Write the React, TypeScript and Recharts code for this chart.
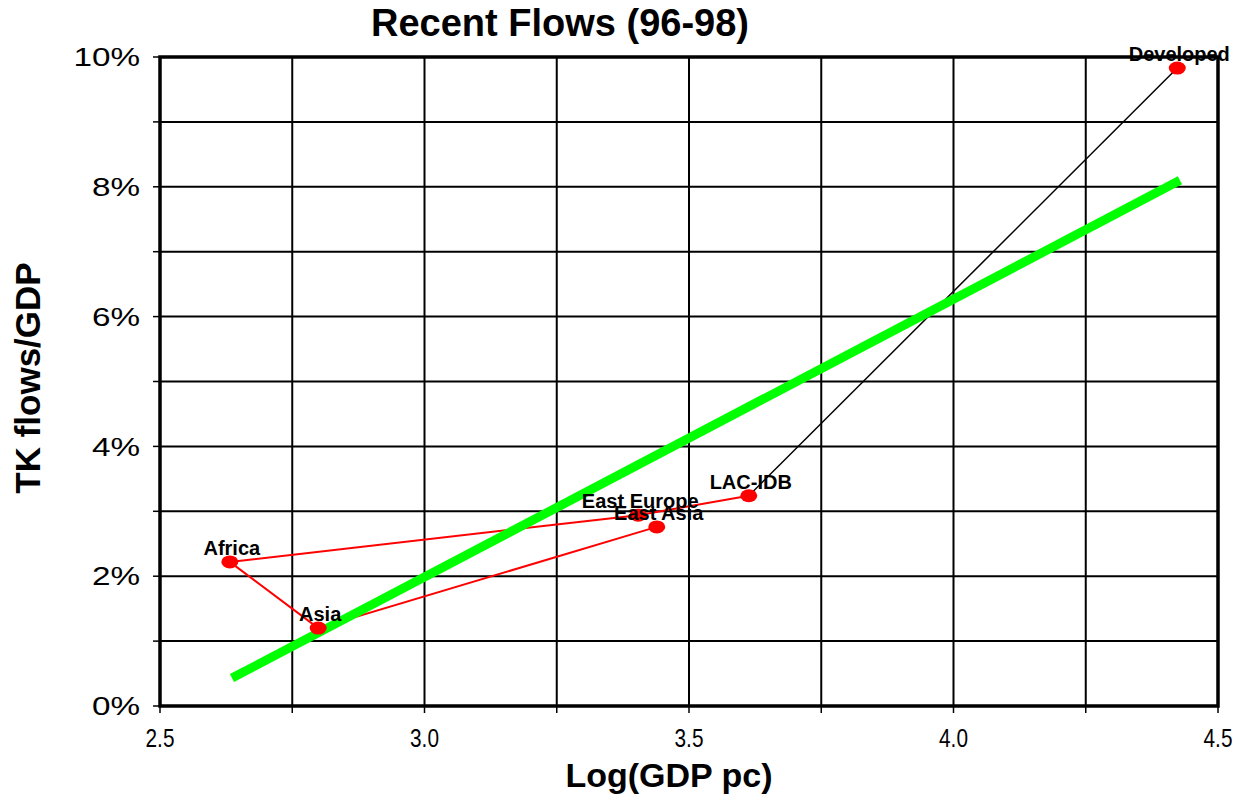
import React from "react";
import {
  ComposedChart,
  Line,
  Scatter,
  XAxis,
  YAxis,
  CartesianGrid,
  ReferenceArea,
} from "recharts";

// ---- data ----
const regionNames = ["Africa", "Asia", "East Europe", "East Asia", "LAC-IDB", "Developed"];
const logGdpPc = [2.632, 2.799, 3.404, 3.439, 3.613, 4.423];
const tkFlowsPct = [2.22, 1.2, 2.94, 2.76, 3.24, 9.83];
const redPathOrder = ["LAC-IDB", "East Europe", "Africa", "Asia", "East Asia"];
const blackPathOrder = ["LAC-IDB", "Developed"];
const trendX = [2.636, 4.428];
const trendY = [0.43, 8.1];
const xTicks = [2.5, 2.75, 3.0, 3.25, 3.5, 3.75, 4.0, 4.25, 4.5];
const xTickLabels = ["2.5", "", "3.0", "", "3.5", "", "4.0", "", "4.5"];
const yTicks = [0, 1, 2, 3, 4, 5, 6, 7, 8, 9, 10];
const yTickLabels = ["0%", "", "2%", "", "4%", "", "6%", "", "8%", "", "10%"];

const points = regionNames.map((name, i) => ({ name, x: logGdpPc[i], y: tkFlowsPct[i] }));
const byName = (n: string) => points.find((p) => p.name === n)!;
const redPath = redPathOrder.map(byName);
const blackPath = blackPathOrder.map(byName);
const trend = trendX.map((x, i) => ({ x, y: trendY[i] }));

const FONT = "'Liberation Sans', Arial, sans-serif";

const YTick = (props: any) => {
  const { x, y, payload } = props;
  const idx = yTicks.indexOf(payload.value);
  const label = yTickLabels[idx] ?? "";
  return (
    <g transform={`translate(${x},${y}) scale(1.28,1)`}>
      <text x={0} y={0} textAnchor="end" dominantBaseline="central" fontSize={26} fontFamily={FONT} fill="#000">
        {label}
      </text>
    </g>
  );
};

const XTick = (props: any) => {
  const { x, y, payload } = props;
  const idx = xTicks.findIndex((t) => Math.abs(t - payload.value) < 1e-9);
  const label = xTickLabels[idx] ?? "";
  return (
    <g transform={`translate(${x},${y}) scale(0.8,1)`}>
      <text x={0} y={28} textAnchor="middle" fontSize={26} fontFamily={FONT} fill="#000">
        {label}
      </text>
    </g>
  );
};

const Dot = (props: any) => {
  const { cx, cy } = props;
  return <ellipse cx={cx} cy={cy} rx={8.5} ry={6.5} fill="#ff0000" />;
};

const PointLabel = (props: any) => {
  const { cx, cy, payload } = props;
  return (
    <text
      x={cx + 2}
      y={cy - 14}
      textAnchor="middle"
      dominantBaseline="central"
      fontSize={20}
      fontWeight="bold"
      fontFamily={FONT}
      fill="#000"
    >
      {payload.name}
    </text>
  );
};

export default function App() {
  return (
    <div style={{ position: "relative", width: 1236, height: 790, fontFamily: FONT }}>
      <ComposedChart
        width={1236}
        height={790}
        margin={{ top: 49, right: 26, bottom: 0, left: 0 }}
      >
        <CartesianGrid stroke="#000" strokeWidth={2} strokeOpacity={1} />
        <XAxis
          dataKey="x"
          type="number"
          domain={[2.5, 4.5]}
          ticks={xTicks}
          height={92}
          tickSize={7}
          tickMargin={6}
          tickLine={{ stroke: "#000", strokeWidth: 1.5 }}
          axisLine={false}
          tick={<XTick />}
          interval={0}
        />
        <YAxis
          dataKey="y"
          type="number"
          domain={[0, 10]}
          ticks={yTicks}
          width={152}
          tickSize={7}
          tickMargin={13}
          tickLine={{ stroke: "#000", strokeWidth: 1.5 }}
          axisLine={false}
          tick={<YTick />}
          interval={0}
        />
        <ReferenceArea
          x1={2.5}
          x2={4.5}
          y1={0}
          y2={10}
          fill="none"
          fillOpacity={0}
          stroke="#000"
          strokeWidth={3.5}
          strokeOpacity={1}
        />
        <Line
          data={redPath}
          dataKey="y"
          stroke="#ff0000"
          strokeWidth={2}
          dot={false}
          isAnimationActive={false}
          type="linear"
        />
        <Line
          data={blackPath}
          dataKey="y"
          stroke="#000"
          strokeWidth={1.5}
          dot={false}
          isAnimationActive={false}
          type="linear"
        />
        <Scatter data={points} dataKey="y" shape={<Dot />} isAnimationActive={false} />
        <Line
          data={trend}
          dataKey="y"
          stroke="#00ff00"
          strokeWidth={9}
          dot={false}
          isAnimationActive={false}
          type="linear"
        />
        <Scatter data={points} dataKey="y" shape={<PointLabel />} isAnimationActive={false} />
      </ComposedChart>
      <div
        style={{
          position: "absolute",
          left: 552,
          top: 15,
          transform: "translate(-50%,-50%)",
          fontSize: 38,
          fontWeight: "bold",
          whiteSpace: "nowrap",
        }}
      >
        Recent Flows (96-98)
      </div>
      <div
        style={{
          position: "absolute",
          left: 661,
          top: 767,
          transform: "translate(-50%,-50%)",
          fontSize: 34,
          fontWeight: "bold",
          whiteSpace: "nowrap",
        }}
      >
        Log(GDP pc)
      </div>
      <div
        style={{
          position: "absolute",
          left: 20,
          top: 370,
          transform: "translate(-50%,-50%) rotate(-90deg)",
          fontSize: 35,
          fontWeight: "bold",
          whiteSpace: "nowrap",
        }}
      >
        TK flows/GDP
      </div>
    </div>
  );
}
